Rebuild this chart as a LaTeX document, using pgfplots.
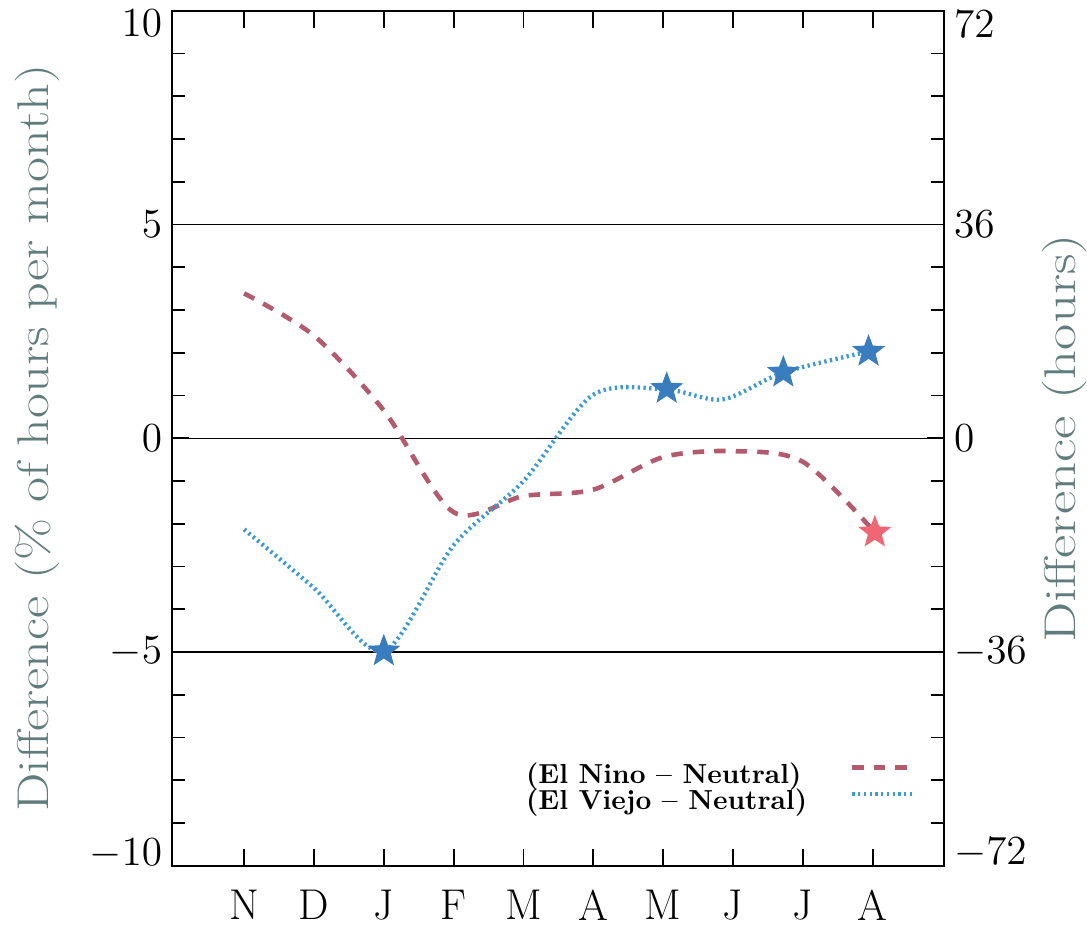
\documentclass[border=0pt]{standalone}
\usepackage{pgfplots}
\pgfplotsset{compat=1.18}
\definecolor{ninoline}{HTML}{B45A6E}
\definecolor{ninostar}{HTML}{F06672}
\definecolor{viejoline}{HTML}{3C9AD0}
\definecolor{viejostar}{HTML}{3A7DBF}
\definecolor{labgray}{HTML}{607C7C}
\pgfdeclareplotmark{fstar}{%
  \pgfpathmoveto{\pgfpointpolar{90}{\pgfplotmarksize}}%
  \pgfpathlineto{\pgfpointpolar{126}{0.42\pgfplotmarksize}}%
  \pgfpathlineto{\pgfpointpolar{162}{\pgfplotmarksize}}%
  \pgfpathlineto{\pgfpointpolar{198}{0.42\pgfplotmarksize}}%
  \pgfpathlineto{\pgfpointpolar{234}{\pgfplotmarksize}}%
  \pgfpathlineto{\pgfpointpolar{270}{0.42\pgfplotmarksize}}%
  \pgfpathlineto{\pgfpointpolar{306}{\pgfplotmarksize}}%
  \pgfpathlineto{\pgfpointpolar{342}{0.42\pgfplotmarksize}}%
  \pgfpathlineto{\pgfpointpolar{18}{\pgfplotmarksize}}%
  \pgfpathlineto{\pgfpointpolar{54}{0.42\pgfplotmarksize}}%
  \pgfpathclose\pgfusepathqfillstroke}
\begin{document}
\begin{tikzpicture}
\begin{axis}[
  name=main,
  width=269pt, height=298pt, scale only axis,
  xmin=-1.03, xmax=10.02, ymin=-10, ymax=10,
  xtick={0,...,9},
  xticklabels={N,D,J,F,M,A,M,J,J,A},
  ytick={-5,0,5},
  extra y ticks={-10,10},
  extra y tick style={yticklabel style={yshift={-4.2*(\tick==10)+4.2*(\tick==-10)}}},
  minor ytick={-9,-8,-7,-6,-4,-3,-2,-1,1,2,3,4,6,7,8,9},
  tick align=inside,
  major tick length=6pt, minor tick length=4.5pt,
  ymajorgrids, grid style={black, line width=0.5pt},
  axis line style={line width=0.6pt},
  every tick/.style={black, line width=0.6pt},
  tick label style={font=\fontsize{15}{18}\selectfont},
  xticklabel style={yshift=-5pt},
  ylabel={\scalebox{1.22}[1]{Difference (\% of hours per month)}},
  ylabel shift=1.5pt,
  ylabel style={font=\fontsize{15.5}{18}\selectfont, text=labgray, yshift=2pt},
  legend style={draw=none, fill=none, at={(axis cs:9.75,-7.3)}, anchor=north east,
    font=\fontsize{9.6}{10}\selectfont\bfseries, row sep=-3.5pt, column sep=13pt},
  legend cell align=left,
  legend plot pos=right,
  legend image code/.code={\draw[#1] (0cm,2.5pt) -- (0.75cm,2.5pt);},
]
\addplot[ninoline, line width=1.6pt, dash pattern=on 4pt off 3.5pt, smooth, tension=0.5]
  coordinates {(0,3.39) (1,2.4) (2,0.65) (3,-1.73) (4,-1.35) (5,-1.2) (6,-0.44) (7,-0.3) (8,-0.55) (9.03,-2.2)};
\addlegendentry{(El Nino -- Neutral)}
\addplot[viejoline, line width=1.5pt, dash pattern=on 0.8pt off 1.2pt, smooth, tension=0.5]
  coordinates {(0,-2.13) (1,-3.5) (2,-4.98) (3,-2.5) (4,-1.0) (5,1.02) (6.05,1.14) (6.85,0.91) (7.72,1.54) (8.94,2.03)};
\addlegendentry{(El Viejo -- Neutral)}
\addplot[only marks, mark=fstar, mark size=5.5pt, color=viejostar, forget plot]
  coordinates {(2,-4.98) (6.05,1.16) (7.72,1.54) (8.94,2.03)};
\addplot[only marks, mark=fstar, mark size=5.5pt, color=ninostar, forget plot]
  coordinates {(9.03,-2.2)};
\end{axis}
\begin{axis}[
  width=269pt, height=298pt, scale only axis,
  xmin=-1.03, xmax=10.02, ymin=-72, ymax=72,
  axis x line=none,
  axis y line*=right,
  ytick={-36,0,36},
  extra y ticks={-72,72},
  extra y tick style={yticklabel style={yshift={-4.5*(\tick==72)+4.5*(\tick==-72)}}},
  major tick length=0pt,
  axis line style={line width=0.6pt, -},
  every tick/.style={black, line width=0.6pt},
  tick label style={font=\fontsize{15}{18}\selectfont},
  ylabel={\scalebox{1.28}[1]{Difference (hours)}},
  ylabel shift=5pt,
  ylabel style={font=\fontsize{15.5}{18}\selectfont, text=labgray, yshift=3pt, inner sep=0pt},
]
\addplot[draw=none, forget plot] coordinates {(0,0)};
\end{axis}
% tick marks along the top border of the main axis
\foreach \i in {0,...,9} {
  \draw[black, line width=0.6pt] ([xshift={(\i+1.03)/11.05*269}]main.north west) -- ++(0pt,-6pt);
}
\path (current bounding box.west) ++(-2pt,0pt);
\end{tikzpicture}
\end{document}
